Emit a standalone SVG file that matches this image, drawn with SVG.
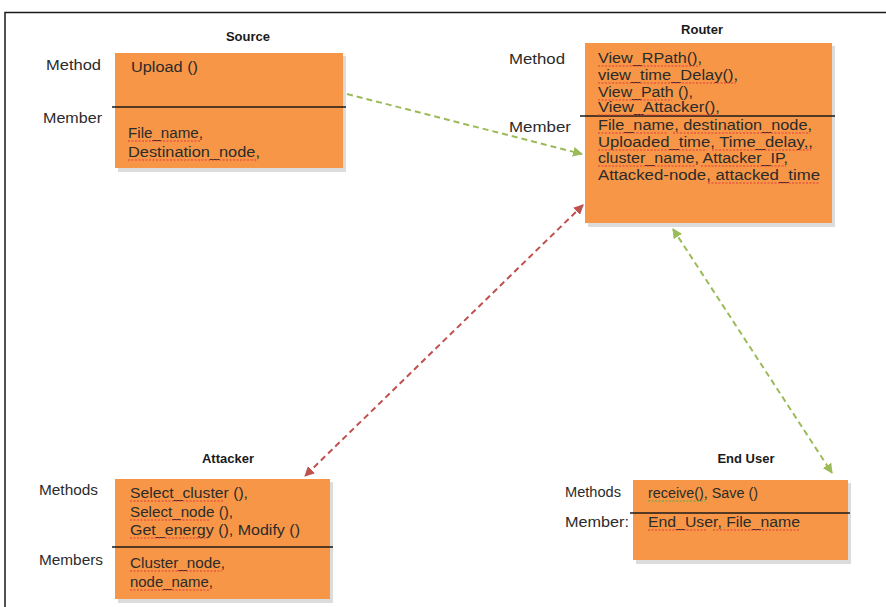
<svg xmlns="http://www.w3.org/2000/svg" width="886" height="607" viewBox="0 0 886 607">
<style>
.box{fill:#f79646;}
.shadow{fill:#dcdcdc;}
.div{stroke:#1a1a1a;stroke-width:1.3;}
.t{font-family:"Liberation Sans",Arial,sans-serif;font-size:14px;fill:#2b2b2b;}
.lbl{font-family:"Liberation Sans",Arial,sans-serif;font-size:14px;fill:#2b2b2b;}
.title{font-family:"Liberation Sans",Arial,sans-serif;font-size:13px;font-weight:bold;fill:#1a1a1a;text-anchor:middle;}
.green{stroke:#9bbb59;stroke-width:2;stroke-dasharray:6,4;fill:none;}
.red{stroke:#c0504d;stroke-width:2;stroke-dasharray:6,4;fill:none;}
.sq{stroke:#e03a3a;stroke-width:1.2;stroke-dasharray:2,1.5;fill:none;}
.sqg{stroke:#4caf50;stroke-width:1.2;stroke-dasharray:2,1.5;fill:none;}
</style>
<defs>
<marker id="ag" viewBox="0 0 10 10" refX="9" refY="5" markerWidth="5" markerHeight="5" orient="auto-start-reverse" markerUnits="strokeWidth">
<path d="M0,0 L10,5 L0,10 z" fill="#9bbb59"/>
</marker>
<marker id="ar" viewBox="0 0 10 10" refX="9" refY="5" markerWidth="5" markerHeight="5" orient="auto-start-reverse" markerUnits="strokeWidth">
<path d="M0,0 L10,5 L0,10 z" fill="#c0504d"/>
</marker>
</defs>
<rect width="886" height="607" fill="#ffffff"/>
<path d="M5,607 V12.5 H886" fill="none" stroke="#1a1a1a" stroke-width="1.5"/>

<g id="connectors">
<line class="green" x1="347" y1="94" x2="582" y2="154" marker-end="url(#ag)"/>
<line class="red" x1="583" y1="205" x2="305" y2="476" marker-start="url(#ar)" marker-end="url(#ar)"/>
<line class="green" x1="673" y1="229" x2="832" y2="473" marker-start="url(#ag)" marker-end="url(#ag)"/>
</g>

<g id="source">
<text class="title" x="248" y="41">Source</text>
<rect class="shadow" x="118" y="56" width="228" height="116"/>
<rect class="box" x="115" y="53" width="228" height="115"/>
<line class="div" x1="112" y1="107" x2="346" y2="107"/>
<text class="lbl" x="46" y="70" textLength="55" lengthAdjust="spacingAndGlyphs">Method</text>
<text class="lbl" x="43" y="123" textLength="59" lengthAdjust="spacingAndGlyphs">Member</text>
<text class="t" x="131" y="72" textLength="67" lengthAdjust="spacingAndGlyphs">Upload ()</text>
<text class="t" x="128" y="138" textLength="75" lengthAdjust="spacingAndGlyphs">File_name,</text>
<text class="t" x="128" y="157" textLength="132" lengthAdjust="spacingAndGlyphs">Destination_node,</text>
<path class="sq" d="M128,141 H200 M128,160 H258"/>
</g>

<g id="router">
<text class="title" x="702" y="34">Router</text>
<rect class="shadow" x="588" y="46" width="247" height="181"/>
<rect class="box" x="585" y="43" width="247" height="180"/>
<line class="div" x1="580" y1="116" x2="835" y2="116"/>
<text class="lbl" x="509" y="64" textLength="56" lengthAdjust="spacingAndGlyphs">Method</text>
<text class="lbl" x="509" y="132" textLength="62" lengthAdjust="spacingAndGlyphs">Member</text>
<text class="t" x="598" y="63" textLength="104" lengthAdjust="spacingAndGlyphs">View_RPath(),</text>
<text class="t" x="598" y="80" textLength="140" lengthAdjust="spacingAndGlyphs">view_time_Delay(),</text>
<text class="t" x="598" y="97" textLength="95" lengthAdjust="spacingAndGlyphs">View_Path (),</text>
<text class="t" x="598" y="112" textLength="122" lengthAdjust="spacingAndGlyphs">View_Attacker(),</text>
<text class="t" x="598" y="130" textLength="214" lengthAdjust="spacingAndGlyphs">File_name, destination_node,</text>
<text class="t" x="598" y="147" textLength="215" lengthAdjust="spacingAndGlyphs">Uploaded_time, Time_delay,,</text>
<text class="t" x="598" y="163" textLength="190" lengthAdjust="spacingAndGlyphs">cluster_name, Attacker_IP,</text>
<text class="t" x="598" y="180" textLength="222" lengthAdjust="spacingAndGlyphs">Attacked-node, attacked_time</text>
<path class="sq" d="M598,66 H700 M598,83 H736 M598,100 H672 M598,115 H718 M598,133 H668 M673,133 H810 M598,150 H707 M712,150 H811 M598,166 H696 M701,166 H786 M708,183 H820"/>
</g>

<g id="attacker">
<text class="title" x="228" y="463">Attacker</text>
<rect class="shadow" x="118" y="482" width="215" height="121"/>
<rect class="box" x="115" y="479" width="215" height="120"/>
<line class="div" x1="112" y1="547" x2="333" y2="547"/>
<text class="lbl" x="39" y="495" textLength="59" lengthAdjust="spacingAndGlyphs">Methods</text>
<text class="lbl" x="39" y="565" textLength="64" lengthAdjust="spacingAndGlyphs">Members</text>
<text class="t" x="130" y="498" textLength="118" lengthAdjust="spacingAndGlyphs">Select_cluster (),</text>
<text class="t" x="130" y="517" textLength="103" lengthAdjust="spacingAndGlyphs">Select_node (),</text>
<text class="t" x="130" y="535" textLength="170" lengthAdjust="spacingAndGlyphs">Get_energy (), Modify ()</text>
<text class="t" x="130" y="568" textLength="95" lengthAdjust="spacingAndGlyphs">Cluster_node,</text>
<text class="t" x="130" y="587" textLength="83" lengthAdjust="spacingAndGlyphs">node_name,</text>
<path class="sq" d="M130,501 H224 M130,520 H210 M130,538 H208 M130,571 H222 M130,590 H210"/>
</g>

<g id="enduser">
<text class="title" x="746" y="463">End User</text>
<rect class="shadow" x="636" y="483" width="215" height="81"/>
<rect class="box" x="633" y="480" width="215" height="80"/>
<line class="div" x1="630" y1="513" x2="850" y2="513"/>
<text class="lbl" x="565" y="497" textLength="56" lengthAdjust="spacingAndGlyphs">Methods</text>
<text class="lbl" x="565" y="527" textLength="64" lengthAdjust="spacingAndGlyphs">Member:</text>
<text class="t" x="648" y="498" textLength="110" lengthAdjust="spacingAndGlyphs">receive(), Save ()</text>
<text class="t" x="648" y="527" textLength="152" lengthAdjust="spacingAndGlyphs">End_User, File_name</text>
<path class="sqg" d="M648,501 H705"/>
<path class="sq" d="M648,530 H706 M713,530 H800"/>
</g>
</svg>
